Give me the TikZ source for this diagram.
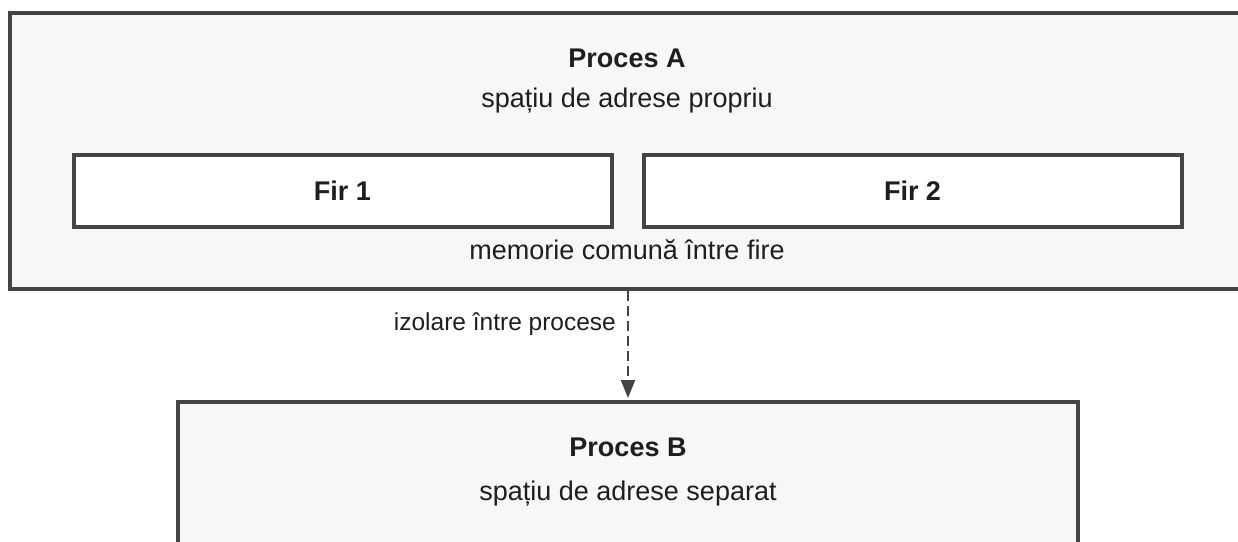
\documentclass[tikz,border=0pt]{standalone}
\usepackage{fontspec}
\setmainfont{Liberation Sans}
\usetikzlibrary{arrows.meta}
\definecolor{edge}{HTML}{444444}
\definecolor{panel}{HTML}{F7F7F7}
\definecolor{ink}{HTML}{1E1E1E}
\tikzset{
  procbox/.style={draw=edge, line width=4pt, fill=panel, inner sep=0pt},
  threadbox/.style={draw=edge, line width=4pt, fill=white, inner sep=0pt,
    minimum width=538pt, minimum height=72pt,
    font=\fontsize{27}{31}\selectfont\bfseries, text=ink},
  title/.style={font=\fontsize{27}{31}\selectfont\bfseries, text=ink, inner sep=0pt},
  caption/.style={font=\fontsize{27}{31}\selectfont, text=ink, inner sep=0pt},
  edgelabel/.style={font=\fontsize{24.5}{28}\selectfont, text=ink, inner sep=0pt},
  isolation/.style={draw=edge, line width=2.2pt, dash pattern=on 10pt off 5pt,
    -{Triangle[length=18pt,width=14pt]}, shorten >=2pt}
}
\begin{document}
\begin{tikzpicture}[x=1pt,y=-1pt]
  \useasboundingbox (0,0) rectangle (1238,541);
  \clip (0,0) rectangle (1238,541);

  % process A with its two threads
  \node[procbox, minimum width=1234pt, minimum height=276pt] (A) at (627,151) {};
  \node[title] (Atitle) at (627,58) {Proces A};
  \node[caption] (Asub) at (627,101) {spațiu de adrese propriu};
  \node[threadbox] (T1) at (342.5,190.5) {Fir 1};
  \node[threadbox] (T2) at (912.5,190.5) {Fir 2};
  \node[caption] (Ashared) at (627,250) {memorie comună între fire};

  % process B
  \node[procbox, minimum width=900pt, minimum height=220pt] (B) at (628,512) {};
  \node[title] (Btitle) at (628,447) {Proces B};
  \node[caption] (Bsub) at (628,494) {spațiu de adrese separat};

  % isolation between processes
  \draw[isolation] (A.south -| B.north) -- (B.north)
    node[edgelabel, pos=0.3, left=11pt] (iso) {izolare între procese};
\end{tikzpicture}
\end{document}
